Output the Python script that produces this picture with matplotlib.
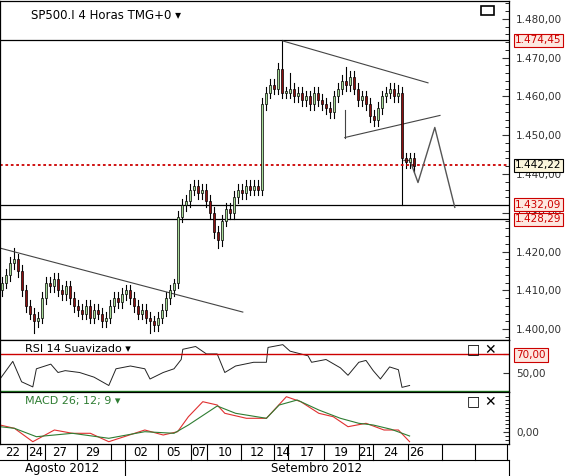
import matplotlib.pyplot as plt
from matplotlib.patches import Rectangle
from matplotlib.ticker import FuncFormatter, MultipleLocator

plt.rcParams['font.family'] = ['DejaVu Sans']
plt.rcParams['font.size'] = 8.5

# candle closes (4h bars)
closes = [1412, 1414, 1417, 1418, 1415, 1410, 1406, 1404, 1402, 1403,
          1408, 1412, 1411, 1413, 1410, 1409, 1411, 1408, 1406, 1405,
          1404, 1406, 1403, 1405, 1404, 1402, 1403, 1406, 1408, 1407,
          1409, 1410, 1408, 1406, 1404, 1405, 1403, 1402, 1401, 1403,
          1405, 1408, 1410, 1412, 1429, 1432, 1433, 1436, 1437, 1435,
          1436, 1433, 1430, 1425, 1423, 1428, 1431, 1430, 1434, 1436,
          1435, 1437, 1436, 1437, 1436, 1458, 1461, 1463, 1462, 1467,
          1461, 1461, 1462, 1460, 1461, 1459, 1460, 1458, 1461, 1459,
          1458, 1457, 1456, 1460, 1462, 1464, 1463, 1465, 1462, 1459,
          1460, 1458, 1455, 1454, 1457, 1460, 1461, 1462, 1460, 1461,
          1444, 1443, 1444, 1442]
first_open = 1410
wick = 1.5
spike_hi = {3: 1421, 43: 1413, 70: 1474.45, 72: 1466, 86: 1467.5, 99: 1463}
spike_lo = {8: 1399, 37: 1399, 54: 1421, 100: 1432.09}

h_levels = [1474.45, 1432.09, 1428.29]
last_price = 1442.22
upper_tri = ([70.2, 106.5], [1474.3, 1463.5])
lower_tri = ([85.7, 109.5], [1449.4, 1455.1])
down_trend = ([-0.5, 60.2], [1420.9, 1404.4])
forecast = ([100.5, 102, 104, 108.2, 113.2], [1443.5, 1443.5, 1437.8, 1452, 1431.4])

rsi_x = [-0.5, 2.7, 4.9, 7.7, 8.6, 12.2, 14, 15.8, 19.4, 23, 26.7, 28.5, 32.1, 35.7, 37,
         40.3, 43, 44.8, 45.2, 48.4, 51.1, 53.8, 55.7, 58.4, 62.9, 66.1, 66.5, 70.2, 72,
         76.5, 77.4, 81, 84.6, 86.5, 89.2, 91, 92.8, 94.6, 96.9, 99.1, 100, 101.9]
rsi_v = [43, 62, 40, 34.5, 54, 59, 50, 52, 50, 45, 36, 54, 57, 54, 43,
         50, 54, 64, 75, 78, 70, 70, 50, 57, 61, 61, 77, 80, 73,
         68, 61, 64, 55, 47, 61, 63, 52, 43, 56, 53, 34, 36]

macd_x = [-0.5, 3.1, 7.7, 13.1, 17.6, 22.1, 26.7, 35.7, 40.3, 43.9, 46.6, 50.2, 53.8,
          55.7, 61.1, 66.1, 71.1, 74.7, 79.2, 82.8, 86.5, 91, 95.5, 99.1, 101.9]
macd_v = [7, 3.7, -9.7, 2, -1.3, -1.3, -9.7, 2, -3, 0.3, 15.3, 30.3, 27,
          18.7, 13.7, 13.7, 35.3, 30.3, 18.7, 15.3, 5.3, 8.7, 2, 2, -9.7]
sig_x = [-0.5, 3.1, 8.6, 17.6, 26.7, 35.7, 43, 46.6, 53.8, 58.4, 66.1, 69.3, 73.8,
         79.2, 84.6, 89.2, 92.8, 97.3, 101.9]
sig_v = [5.3, 3.7, -4.7, -1.3, -6.3, 0.3, -1.3, 7, 26, 18.7, 13.7, 27, 32,
         22, 13.7, 8.7, 7, 2.7, -4]

day_labels = ['22', '24', '27', '29', '02', '05', '07', '10', '12', '14', '17', '19', '21', '24', '26']
day_px = [13, 36, 60, 93, 141, 174, 199, 225, 257, 283, 307, 341, 366, 391, 417]
sep_px = [27, 45, 77, 111, 125, 158, 191, 207, 241, 274, 288, 324, 359, 373, 408, 442, 475, 507]
months = [('Agosto 2012', 0, 125), ('Setembro 2012', 125, 509)]

W, H = 568, 476
fig = plt.figure(figsize=(W / 100, H / 100), dpi=100)


def ax_px(x0, y0, x1, y1):
    return fig.add_axes([x0 / W, 1 - y1 / H, (x1 - x0) / W, (y1 - y0) / H])


def euro(v, _):
    s = f'{v:,.2f}'
    return s.replace(',', 'X').replace('.', ',').replace('X', '.')


xlim = (-0.5, 126.75)
RED = '#cc0000'
LS = 7.5

# ---- price panel
ax = ax_px(0, 1, 509, 340)
ax.set_xlim(*xlim)
ax.set_ylim(1397.2, 1484.6)
opens = [first_open] + closes[:-1]
for i, (o, c) in enumerate(zip(opens, closes)):
    hi = spike_hi.get(i, max(o, c) + wick)
    lo = spike_lo.get(i, min(o, c) - wick)
    ax.plot([i, i], [lo, hi], color='black', lw=0.8, zorder=2)
    col = '#a8dc98' if c >= o else '#8b1010'
    ax.add_patch(Rectangle((i - 0.35, min(o, c)), 0.7, max(abs(c - o), 0.3),
                           facecolor=col, edgecolor='black', lw=0.5, zorder=3))
for lv in h_levels:
    ax.axhline(lv, color='black', lw=0.9)
ax.axhline(last_price, color=RED, lw=1.3, ls=(0, (1.5, 1.5)))
for xs, ys in (upper_tri, lower_tri, down_trend):
    ax.plot(xs, ys, color='#444444', lw=0.8)
ax.plot([85.7, 85.7], [1449.4, 1456.5], color='#444444', lw=0.8)
ax.plot(*forecast, color='#555555', lw=1)
ax.yaxis.tick_right()
ax.yaxis.set_major_locator(MultipleLocator(10))
ax.yaxis.set_minor_locator(MultipleLocator(2))
ax.yaxis.set_major_formatter(FuncFormatter(euro))
ax.tick_params(axis='y', colors='#333333', labelsize=LS, length=5, direction='in', pad=5)
ax.tick_params(axis='y', which='minor', length=3, direction='in')
ax.set_xticks([])
ax.text(0.06, 0.975, 'SP500.I 4 Horas TMG+0 \u25be', transform=ax.transAxes,
        va='top', fontsize=8.5)
ax.add_patch(Rectangle((0.945, 0.96), 0.025, 0.025, transform=ax.transAxes,
                       fill=False, lw=1.2, clip_on=False))
for lv, fc, tc in [(1474.45, '#fde8e0', RED), (last_price, '#fbf6dc', 'black'),
                   (1432.09, '#fde8e0', RED), (1428.29, '#fde8e0', RED)]:
    ax.text(1.0 + 6 / 509, lv, euro(lv, None), transform=ax.get_yaxis_transform(),
            va='center', ha='left', color=tc, fontsize=LS, zorder=5,
            bbox=dict(boxstyle='square,pad=0.12', fc=fc, ec=tc if tc == RED else 'black', lw=0.8))

# ---- RSI panel
ar = ax_px(0, 340, 509, 392)
ar.set_xlim(*xlim)
ar.set_ylim(29, 85)
ar.plot(rsi_x, rsi_v, color='#222222', lw=0.7)
ar.axhline(70, color=RED, lw=1)
ar.axhline(30, color='#228822', lw=1)
ar.yaxis.tick_right()
ar.set_yticks([50, 70])
ar.yaxis.set_major_formatter(FuncFormatter(euro))
ar.tick_params(axis='y', colors='#333333', labelsize=LS, length=4, direction='in', pad=5)
ar.get_yticklabels()[1].set_color(RED)
ar.get_yticklabels()[1].set_bbox(dict(boxstyle='square,pad=0.2', fc='#fde8e0', ec=RED, lw=0.8))
ar.set_xticks([])
ar.text(0.05, 0.93, 'RSI 14 Suavizado \u25be', transform=ar.transAxes, va='top', fontsize=8)
ar.text(0.975, 0.93, '\u25a1 \u2715', transform=ar.transAxes, va='top', ha='right', fontsize=10, fontweight='bold')

# ---- MACD panel
am = ax_px(0, 392, 509, 444)
am.set_xlim(*xlim)
am.set_ylim(-12, 40)
am.plot(macd_x, macd_v, color='#e03030', lw=0.8)
am.plot(sig_x, sig_v, color='#2e7d32', lw=0.8)
am.yaxis.tick_right()
am.set_yticks([0])
am.yaxis.set_minor_locator(MultipleLocator(4))
am.yaxis.set_major_formatter(FuncFormatter(euro))
am.tick_params(axis='y', colors='#333333', labelsize=LS, length=4, direction='in', pad=5)
am.tick_params(axis='y', which='minor', length=3, direction='in')
am.set_xticks([])
am.text(0.05, 0.93, 'MACD 26; 12; 9 \u25be', transform=am.transAxes, va='top',
        fontsize=8, color='#2e7d32')
am.text(0.975, 0.93, '\u25a1 \u2715', transform=am.transAxes, va='top', ha='right', fontsize=10, fontweight='bold')

# ---- date strip
ad = ax_px(0, 444, 568, 476)
ad.set_xlim(0, W)
ad.set_ylim(32, 0)
ad.axis('off')
ad.plot([0, 509], [16, 16], color='black', lw=0.8)
for s in sep_px:
    ad.plot([s, s], [0, 16], color='black', lw=0.8)
for lab, px in zip(day_labels, day_px):
    ad.text(px, 8.5, lab, ha='center', va='center', fontsize=8.5)
for name, a, b in months:
    ad.plot([b, b], [16, 32], color='black', lw=0.8)
    ad.text((a + b) / 2, 24.5, name, ha='center', va='center', fontsize=8.5)

for a in (ax, ar, am):
    for sp in a.spines.values():
        sp.set_linewidth(0.9)
fig.savefig('out.png', dpi=100)
